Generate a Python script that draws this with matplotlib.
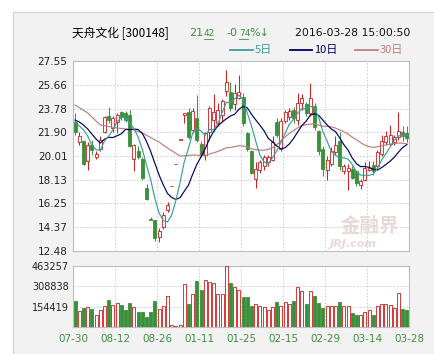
import numpy as np
import pandas as pd
import matplotlib
matplotlib.use("Agg")
import matplotlib.pyplot as plt
from matplotlib.patches import Rectangle
from matplotlib.lines import Line2D

plt.rcParams['font.family'] = ['DejaVu Sans', 'Noto Sans CJK SC']

# ---- data ----
dates = ["07-30", "08-12", "08-26", "01-11", "01-25", "02-15", "02-29", "03-14", "03-28"]
price_ticks = [12.48, 14.37, 16.25, 18.13, 20.01, 21.90, 23.78, 25.66, 27.55]
vol_ticks = [154419, 308838, 463257]

opens = [22.7, 21.1, 21.2, 19.6, 20.9, 19.9, 20.6, 21.9, 23.2, 22.2,
         22.7, 23.5, 23.4, 23.3, 19.8, 20.4, 19.8, 17.5, 15.0, 14.9,
         13.6, 14.4, 15.7, 17.6, 19.36, 21.3, 23.3, 23.5, 22.1, 23.0,
         21.0, 20.1, 21.9, 22.9, 22.6, 23.3, 25.2, 25.1, 24.1, 24.6,
         24.7, 21.8, 20.4, 18.2, 18.9, 19.2, 19.5, 19.7, 22.7, 20.6,
         22.8, 23.1, 23.7, 22.9, 24.2, 24.1, 23.4, 24.0, 22.0, 20.6,
         18.9, 19.4, 20.3, 21.2, 18.8, 18.8, 19.0, 18.8, 17.7, 18.1,
         18.9, 19.3, 19.2, 20.2, 21.1, 21.0, 21.1, 21.5, 21.9, 21.8]
highs = [23.4, 21.9, 21.3, 21.1, 21.3, 20.4, 21.6, 23.2, 23.9, 23.2,
         23.4, 23.6, 23.6, 23.7, 21.0, 20.8, 19.9, 17.8, 15.2, 14.95,
         14.3, 15.6, 16.4, 17.6, 19.36, 21.3, 23.43, 23.8, 23.8, 24.85,
         21.2, 21.9, 24.0, 24.9, 24.2, 24.5, 26.84, 25.9, 25.7, 26.4,
         25.0, 21.9, 20.5, 19.5, 19.7, 20.1, 20.1, 21.6, 23.0, 23.0,
         23.7, 23.8, 23.9, 25.0, 24.9, 24.3, 25.8, 24.2, 22.1, 20.8,
         20.0, 20.7, 21.6, 21.9, 19.4, 19.4, 19.2, 18.9, 18.2, 19.5,
         19.6, 19.6, 20.5, 21.7, 22.0, 22.5, 21.7, 23.5, 22.4, 22.4]
lows = [21.7, 20.9, 19.3, 18.9, 20.1, 19.8, 20.4, 21.8, 22.6, 21.9,
        21.8, 22.9, 22.7, 20.7, 18.8, 19.8, 18.1, 16.5, 14.94, 13.3,
        13.2, 14.2, 15.6, 17.6, 19.36, 21.3, 22.6, 21.4, 21.8, 21.1,
        19.9, 19.7, 21.3, 22.0, 22.4, 22.7, 24.8, 23.6, 23.7, 24.5,
        22.4, 20.4, 18.6, 17.5, 18.7, 18.9, 19.2, 19.6, 21.5, 20.4,
        22.6, 22.9, 22.6, 22.5, 23.7, 23.2, 23.2, 22.1, 20.1, 18.4,
        18.1, 19.2, 20.1, 18.9, 18.6, 17.3, 18.2, 17.6, 17.4, 18.0,
        18.8, 18.5, 19.0, 20.0, 20.9, 20.8, 20.9, 21.3, 21.2, 21.1]
closes = [21.9, 21.6, 19.4, 20.9, 20.5, 20.2, 21.3, 23.1, 22.9, 23.0,
          23.3, 23.1, 22.9, 20.8, 20.9, 19.9, 18.3, 16.6, 14.94, 13.5,
          14.1, 15.3, 16.1, 17.6, 19.36, 21.3, 23.43, 21.5, 23.6, 21.3,
          20.1, 21.8, 23.8, 23.5, 23.7, 24.4, 25.9, 23.8, 25.0, 25.1,
          22.6, 20.6, 18.7, 19.0, 19.5, 19.9, 19.9, 21.1, 21.7, 22.8,
          23.5, 23.6, 23.0, 24.2, 24.6, 23.4, 24.6, 22.3, 20.4, 19.0,
          19.7, 20.4, 20.9, 19.2, 19.2, 19.1, 18.3, 17.9, 18.0, 19.1,
          19.1, 18.8, 20.3, 21.2, 21.6, 21.7, 21.5, 22.0, 21.58, 21.42]
volumes = [198000, 120000, 145000, 153000, 137000, 89000, 127000, 158000, 206000, 168000,
           181000, 168000, 130000, 183000, 153000, 115000, 115000, 76000, 115000, 198000,
           137000, 160000, 237000, 15000, 8000, 15000, 328000, 176000, 252000, 351000,
           283000, 359000, 344000, 336000, 252000, 252000, 463257, 336000, 305000, 283000,
           229000, 229000, 160000, 176000, 160000, 153000, 130000, 153000, 191000, 160000,
           191000, 176000, 198000, 305000, 275000, 176000, 275000, 237000, 183000, 145000,
           160000, 160000, 160000, 191000, 160000, 160000, 107000, 92000, 92000, 115000,
           130000, 92000, 160000, 176000, 176000, 168000, 145000, 260000, 137000, 130000]

# moving-average values at the left edge (earlier history not shown on chart)
ma5_lead = [22.73, 22.40, 22.08, 21.60]
ma10_lead = [22.87, 22.71, 22.47, 22.16, 21.76, 21.36, 21.04, 21.35, 21.50]
ma30_lead_idx = [0, 3, 6, 10, 14, 16, 20, 22, 25, 28]
ma30_lead = [24.06, 23.43, 22.47, 22.24, 22.08, 21.84, 21.12, 20.65, 20.01, 20.09]

RED = "#d01818"
GREEN = "#3b8f3b"
C5 = "#3c9c9c"
C10 = "#000066"
C30 = "#bf7c7c"
GRID = "#c8c8c8"
W, H = 435, 354

def fx(px):
    return px / W

def fy(py):
    return 1 - py / H

fig = plt.figure(figsize=(W / 100, H / 100), dpi=100)
fig.patch.set_facecolor("white")
fig.patches.append(Rectangle((fx(13), 0), 1, fy(12), transform=fig.transFigure,
                             fc="#f2f2f2", ec="#d0d0d0", lw=0.8, zorder=-5))

ax = fig.add_axes([fx(73), fy(251), fx(409) - fx(73), fy(61) - fy(251)])
axv = fig.add_axes([fx(73), fy(327), fx(409) - fx(73), fy(266) - fy(327)])

o = np.array(opens); h = np.array(highs); l = np.array(lows); c = np.array(closes)
n = len(c)
x = np.arange(n) + 0.5
up = c >= o
cols = np.where(up, RED, GREEN)
faces = np.where(up, "white", GREEN)

# candles
ax.vlines(x, l, h, colors=cols, lw=0.7, zorder=3)
ax.bar(x, np.maximum(np.abs(c - o), 0.04), 0.72, np.minimum(o, c),
       facecolor=faces, edgecolor=cols, lw=0.6, zorder=4)

# moving averages
cs = pd.Series(c)
ma5 = cs.rolling(5).mean().to_numpy()
ma5[:4] = ma5_lead
ma10 = cs.rolling(10).mean().to_numpy()
ma10[:9] = ma10_lead
ma30 = cs.rolling(30).mean().to_numpy()
x30 = np.concatenate([np.array(ma30_lead_idx) + 0.5, x[29:]])
y30 = np.concatenate([ma30_lead, ma30[29:]])
ax.plot(x30, y30, color=C30, lw=0.85, zorder=5)
ax.plot(x, ma10, color=C10, lw=0.85, zorder=6)
ax.plot(x, ma5, color=C5, lw=0.85, zorder=6)

ax.set_xlim(0, n)
ax.set_ylim(price_ticks[0], price_ticks[-1])
ax.set_yticks(price_ticks)
ax.set_yticklabels([f"{v:.2f}" for v in price_ticks])
ax.set_xticks(range(0, n + 1, 10))
ax.set_xticklabels([])

# volume
axv.bar(x, volumes, 0.74, facecolor=faces, edgecolor=cols, lw=0.6, zorder=3)
axv.set_xlim(0, n)
axv.set_ylim(0, vol_ticks[-1])
axv.set_yticks(vol_ticks)
axv.set_yticklabels([str(v) for v in vol_ticks])
axv.set_xticks(range(0, n + 1, 10))
axv.set_xticklabels(dates, color="#3f8f3f")

for a in (ax, axv):
    a.set_facecolor("white")
    a.grid(True, color=GRID, ls=(0, (2, 2)), lw=0.6, zorder=0)
    a.set_axisbelow(True)
    a.tick_params(length=0, labelsize=7.5, pad=4, colors="#222222")
    for s in a.spines.values():
        s.set_color("#bdbdbd")
        s.set_linewidth(0.8)
axv.tick_params(axis="x", labelcolor="#3f8f3f", pad=5)
axv.tick_params(axis="y", labelsize=7, pad=3)

# watermark
ax.text(0.885, 0.13, "金融界", transform=ax.transAxes, ha="center", va="center",
        fontsize=14, fontweight="bold", color="#e8d8d8", family=["Noto Sans CJK SC"], zorder=1)
ax.text(0.835, 0.035, "JRJ.com", transform=ax.transAxes, ha="center", va="center",
        fontsize=8, fontweight="bold", style="italic", color="#e8d8d8", zorder=1)

# header
cjk = ["Noto Sans CJK SC", "DejaVu Sans"]
fig.text(fx(72), fy(33), "天舟文化 [300148]", fontsize=8.5, va="center", family=cjk)
fig.text(fx(189), fy(33), "21", fontsize=8, va="center", color=GREEN)
fig.text(fx(204), fy(34), "42", fontsize=6.5, va="center", color=GREEN)
fig.add_artist(Line2D([fx(204), fx(213)], [fy(39), fy(39)], color=GREEN, lw=0.6))
fig.text(fx(226), fy(33), "-0", fontsize=8, va="center", color=GREEN)
fig.text(fx(239), fy(34), "74", fontsize=6.5, va="center", color=GREEN)
fig.add_artist(Line2D([fx(239), fx(248)], [fy(39), fy(39)], color=GREEN, lw=0.6))
fig.text(fx(249), fy(33), "%↓", fontsize=8, va="center", color=GREEN)
fig.text(fx(295), fy(33), "2016-03-28 15:00:50", fontsize=7.8, va="center", color="#111111")

for x0, x1, col, lab in [(230, 253, C5, "5日"), (290, 312, C10, "10日"), (355, 378, C30, "30日")]:
    fig.add_artist(Line2D([fx(x0), fx(x1)], [fy(50), fy(50)], color=col, lw=1.3))
    fig.text(fx(x1 + 2), fy(50), lab, fontsize=8, va="center", color=col, family=cjk)

fig.savefig("out.png", dpi=100)
